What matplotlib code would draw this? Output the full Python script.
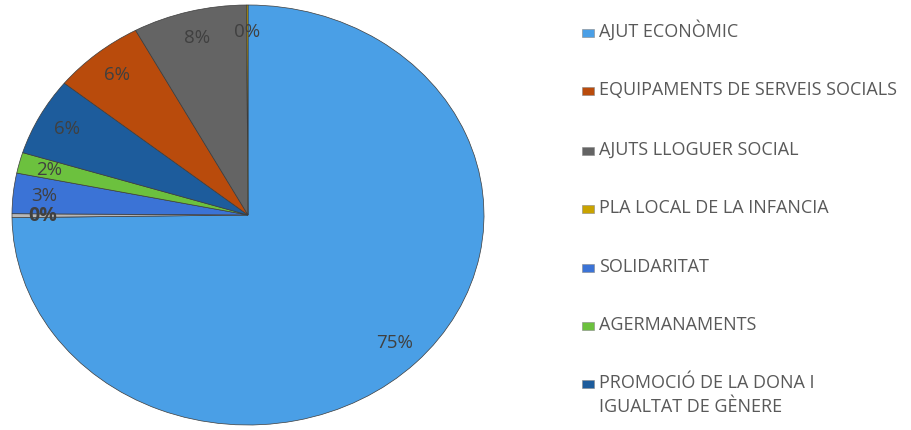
import matplotlib
matplotlib.use('Agg')
from matplotlib import pyplot as plt
from matplotlib.patches import Rectangle

categories = ['AJUT ECONÒMIC', 'EQUIPAMENTS DE SERVEIS SOCIALS', 'AJUTS LLOGUER SOCIAL',
              'PLA LOCAL DE LA INFANCIA', 'SOLIDARITAT', 'AGERMANAMENTS',
              'PROMOCIÓ DE LA DONA I\nIGUALTAT DE GÈNERE', 'ALTRES']
values = [74.8, 6.3, 7.8, 0.1, 3.1, 1.6, 6.0, 0.3]
colors = ['#4a9fe6', '#b94b0c', '#646464', '#c9a300', '#3b73d6', '#6cc13e', '#1d5c9c', '#b8b8b8']
# order of slices going clockwise from 12 o'clock
pie_order = [0, 7, 4, 5, 6, 1, 2, 3]

plt.rcParams['font.family'] = ['Open Sans', 'DejaVu Sans']

fig = plt.figure(figsize=(9.12, 4.3), dpi=100)
# the pie is a little squashed (ellipse) like the excel one
cx, cy, rx, ry = 248, 215, 236, 210
ax = fig.add_axes([(cx - rx) / 912, (430 - cy - ry) / 430, 2 * rx / 912, 2 * ry / 430])

vals = [values[i] for i in pie_order]
cols = [colors[i] for i in pie_order]
wedges, texts, autotexts = ax.pie(vals, colors=cols, startangle=90, counterclock=False,
                                  autopct='%.0f%%', pctdistance=0.87,
                                  wedgeprops=dict(edgecolor='#3c3c3c', linewidth=0.5),
                                  textprops=dict(color='#404040', fontsize=13.5))
for t, i in zip(autotexts, pie_order):
    if categories[i] == 'ALTRES':
        t.set_fontweight('bold')
        t.set_fontsize(14)
ax.set_aspect('auto')
ax.set_xlim(-1, 1)
ax.set_ylim(-1, 1)

# legend drawn by hand, it is cut off at the bottom like the original
baselines = [37, 95, 155, 213, 272, 330, 388]
for i, yb in enumerate(baselines):
    fig.patches.append(Rectangle((582 / 912, 1 - yb / 430), 12 / 912, 8 / 430,
                                 transform=fig.transFigure, facecolor=colors[i],
                                 edgecolor='#888888', linewidth=0.4))
    for k, line in enumerate(categories[i].split('\n')):
        fig.text(599 / 912, 1 - (yb + 24 * k) / 430, line, fontsize=13, color='#595959',
                 va='baseline', ha='left')

fig.savefig('out.png', dpi=100)
